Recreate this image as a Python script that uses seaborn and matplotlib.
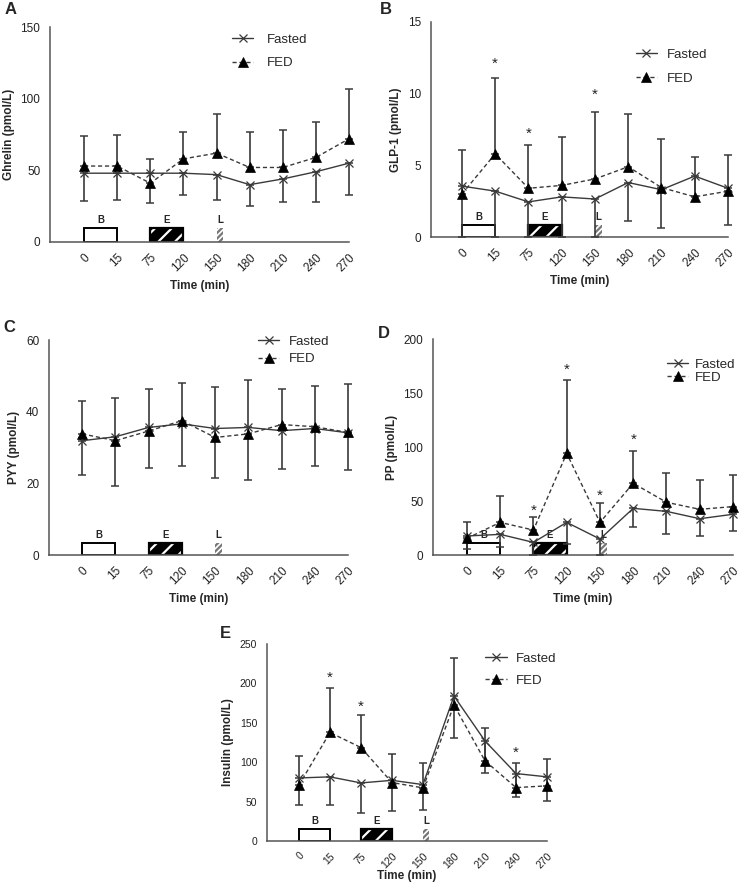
import numpy as np
import pandas as pd
import matplotlib
matplotlib.use("Agg")
import matplotlib.pyplot as plt
import seaborn as sns

# ==============================
# DATA
# ==============================
time_labels = ["0", "15", "75", "120", "150", "180", "210", "240", "270"]

# A - Ghrelin
ghrelin_fasted = [48, 48, 48, 48, 47, 40, 44, 49, 55]
ghrelin_fasted_err = [19.5, 18.5, 21, 15.5, 17.5, 15, 16, 21, 22]
ghrelin_fed = [53, 53, 41, 58, 62, 52, 52, 59, 72]
ghrelin_fed_err = [21, 22, 17, 19, 27, 25, 26, 25, 35]

# B - GLP-1
glp1_fasted = [3.55, 3.2, 2.45, 2.8, 2.65, 3.8, 3.3, 4.25, 3.4]
glp1_fasted_err = [3.55, 3.2, 2.45, 2.8, 2.65, 2.68, 2.7, 1.4, 2.55]
glp1_fed = [3.0, 5.8, 3.4, 3.6, 4.05, 4.9, 3.45, 2.8, 3.2]
glp1_fed_err = [3.05, 5.27, 3.0, 3.4, 4.65, 3.65, 3.4, 2.75, 2.55]
glp1_star_idx = [1, 2, 4]
glp1_star_y = [12.4, 7.5, 10.2]

# C - PYY
pyy_fasted = [31.9, 33, 35.6, 36.6, 35.3, 35.6, 34.7, 35.3, 34.1]
pyy_fasted_err = [9.6, 13.7, 11.4, 11.8, 13.7, 14.7, 10.7, 10.5, 10.4]
pyy_fed = [33.8, 31.9, 34.6, 37.5, 32.8, 33.8, 36.4, 35.8, 34.2]
pyy_fed_err = [9.2, 11.8, 11.7, 10.6, 14.0, 14.9, 9.9, 11.5, 13.4]

# D - PP
pp_fasted = [17.6, 19.1, 11.7, 30.2, 14.8, 43.2, 40.4, 33.6, 37.7]
pp_fasted_err = [12, 12, 11.7, 20, 14.8, 17.6, 21, 16, 15.2]
pp_fed = [15.4, 30.2, 23.1, 94.1, 30.2, 66.4, 48.8, 42.3, 44.8]
pp_fed_err = [15.5, 24.4, 12.4, 67.9, 17.6, 30.2, 27.4, 27.1, 29.2]
pp_star_idx = [2, 3, 4, 5]
pp_star_y = [44.8, 175, 58.6, 110.5]

# E - Insulin
insulin_fasted = [80, 81.4, 73.7, 77, 71.6, 184, 127, 85.6, 81.4]
insulin_fasted_err = [34.7, 35.2, 37.7, 39, 32.6, 53, 40.6, 29.6, 31]
insulin_fed = [70.8, 137.7, 118.6, 74.2, 67.4, 172.5, 101.7, 67.8, 70]
insulin_fed_err = [36.8, 56.8, 41.1, 36.8, 32.2, 60, 42.3, 31.8, 34.6]
insulin_star_idx = [1, 2, 7]
insulin_star_y = [212, 176, 117]

LINE = "#3a3a3a"
W, H = 740, 889


def px_rect(left, bottom, right, top):
    """Axes rectangle from pixel edges of the reference."""
    return [left / W, 1 - bottom / H, (right - left) / W, (bottom - top) / H]


def draw_meal_boxes(ax, h):
    # breakfast (open), exercise (black, patterned), lunch (hatched sliver)
    ax.bar(0, h, width=1, align="edge", facecolor="white", edgecolor="black",
           linewidth=1.4, zorder=2)
    ax.bar(2, h, width=1, align="edge", facecolor="black", edgecolor="black",
           linewidth=1.4, zorder=2)
    ax.bar(2, h, width=1, align="edge", fill=False, hatch="//",
           edgecolor="white", linewidth=0, zorder=2.1)
    ax.bar(2, h, width=1, align="edge", fill=False, edgecolor="black",
           linewidth=1.6, zorder=2.2)
    ax.bar(4, h, width=0.2, align="edge", facecolor="white", hatch="//////",
           edgecolor="#777777", linewidth=0, zorder=2)
    for x, s in [(0.5, "B"), (2.5, "E"), (4.1, "L")]:
        ax.annotate(s, (x, h), xytext=(0, 2), textcoords="offset points",
                    ha="center", va="bottom", fontsize=7, fontweight="bold")


def draw_panel(fig, rect, xmin, letter, letter_xy, ylabel, ymax, ystep,
               fasted, fasted_err, fed, fed_err, leg_anchor, leg_space,
               leg_pad, box_h, stars=None, tick_size=8.5, xlabel_pad=4):
    ax = fig.add_axes(rect)
    pos = np.arange(len(time_labels))
    df = pd.DataFrame({"pos": pos, "fasted": fasted, "fed": fed})

    # error bars: FED upwards, Fasted downwards
    ax.errorbar(pos, fed, yerr=[np.zeros(len(pos)), fed_err], fmt="none",
                ecolor=LINE, elinewidth=1.2, capsize=2.8, capthick=1.1,
                zorder=3, clip_on=False)
    ax.errorbar(pos, fasted, yerr=[fasted_err, np.zeros(len(pos))], fmt="none",
                ecolor=LINE, elinewidth=1.2, capsize=2.8, capthick=1.1,
                zorder=3, clip_on=False)

    sns.lineplot(data=df, x="pos", y="fasted", ax=ax, color=LINE, linewidth=1.0,
                 marker="x", markersize=6, markeredgewidth=0.9,
                 markeredgecolor=LINE, label="Fasted", clip_on=False, zorder=4)
    sns.lineplot(data=df, x="pos", y="fed", ax=ax, color=LINE, linewidth=1.0,
                 linestyle=(0, (3, 2)), marker="^", markersize=7,
                 markerfacecolor="black", markeredgecolor="black",
                 markeredgewidth=0.5, label="FED", clip_on=False, zorder=5)

    draw_meal_boxes(ax, box_h)

    if stars is not None:
        for i, y in zip(*stars):
            ax.annotate("*", (i, y), xytext=(0, -3), textcoords="offset points",
                        ha="center", va="center", fontsize=11,
                        color="#222222")

    ax.set_xlim(xmin, 8)
    ax.set_ylim(0, ymax)
    ax.set_yticks(np.arange(0, ymax + ystep / 2, ystep))
    ax.set_xticks(pos)
    ax.set_xticklabels(time_labels, rotation=45, ha="right",
                       rotation_mode="anchor")
    ax.tick_params(axis="both", direction="out", length=4, width=1,
                   color="#555555", labelsize=tick_size, labelcolor="#222222",
                   pad=3)
    for side in ["top", "right"]:
        ax.spines[side].set_visible(False)
    for side in ["left", "bottom"]:
        ax.spines[side].set_color("#555555")
        ax.spines[side].set_linewidth(1.1)

    ax.set_ylabel(ylabel, fontsize=8.5, fontweight="bold", labelpad=4)
    ax.set_xlabel("Time (min)", fontsize=8.5, fontweight="bold",
                  labelpad=xlabel_pad)

    ax.legend(loc="upper left", bbox_to_anchor=leg_anchor, frameon=False,
              fontsize=9.5, handlelength=1.6, handletextpad=leg_pad,
              borderpad=0, borderaxespad=0, labelspacing=leg_space)

    fig.text(letter_xy[0] / W, 1 - letter_xy[1] / H, letter, fontsize=12,
             fontweight="bold", ha="left", va="center")
    return ax


def main():
    sns.set_style("white")
    plt.rcParams["font.family"] = ["Liberation Sans", "DejaVu Sans"]
    plt.rcParams["hatch.linewidth"] = 1.6

    fig = plt.figure(figsize=(7.4, 8.89), dpi=100)

    draw_panel(fig, px_rect(50, 242, 349, 27), -1.03, "A", (5, 10),
               "Ghrelin (pmol/L)", 150, 50,
               ghrelin_fasted, ghrelin_fasted_err, ghrelin_fed, ghrelin_fed_err,
               (0.609, 0.97), 0.85, 1.05, 10)
    draw_panel(fig, px_rect(431, 237, 728, 22), -0.93, "B", (380, 10),
               "GLP-1 (pmol/L)", 15, 5,
               glp1_fasted, glp1_fasted_err, glp1_fed, glp1_fed_err,
               (0.69, 0.875), 0.85, 0.75, 0.85,
               stars=(glp1_star_idx, glp1_star_y))
    draw_panel(fig, px_rect(49, 555, 348, 340), -1.0, "C", (3, 327),
               "PYY (pmol/L)", 60, 20,
               pyy_fasted, pyy_fasted_err, pyy_fed, pyy_fed_err,
               (0.70, 1.02), 0.4, 0.75, 3.3)
    draw_panel(fig, px_rect(433, 555, 733, 339), -1.02, "D", (378, 333),
               "PP (pmol/L)", 200, 50,
               pp_fasted, pp_fasted_err, pp_fed, pp_fed_err,
               (0.78, 0.91), 0.05, 0.5, 11.5,
               stars=(pp_star_idx, pp_star_y))
    draw_panel(fig, px_rect(267, 841, 547, 644), -1.03, "E", (220, 633),
               "Insulin (pmol/L)", 250, 50,
               insulin_fasted, insulin_fasted_err, insulin_fed,
               insulin_fed_err, (0.78, 0.955), 0.7, 0.7, 15,
               stars=(insulin_star_idx, insulin_star_y),
               tick_size=7.5, xlabel_pad=0)

    fig.savefig("out.png", dpi=100)


if __name__ == "__main__":
    main()
